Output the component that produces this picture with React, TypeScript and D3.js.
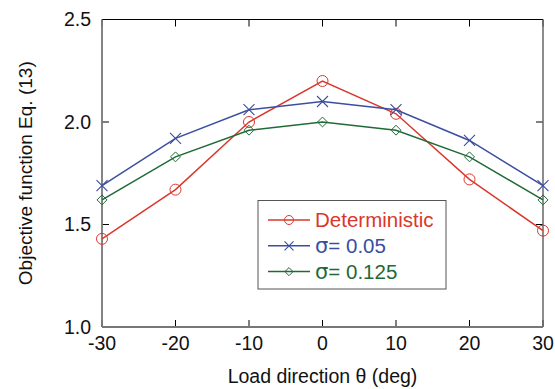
import * as d3 from "d3";

// ── Data ──────────────────────────────────────────────────────
const THETA = [-30, -20, -10, 0, 10, 20, 30];
const DETERMINISTIC = [1.43, 1.67, 2.0, 2.2, 2.04, 1.72, 1.47];
const SIGMA_005 = [1.69, 1.92, 2.06, 2.1, 2.06, 1.91, 1.69];
const SIGMA_0125 = [1.62, 1.83, 1.96, 2.0, 1.96, 1.83, 1.62];
const X_TICKS = [-30, -20, -10, 0, 10, 20, 30];
const Y_TICKS = [1.0, 1.5, 2.0, 2.5];

const SERIES = [
  { label: "Deterministic", sigma: false, values: DETERMINISTIC, color: "#d9372b", marker: "circle" },
  { label: "= 0.05", sigma: true, values: SIGMA_005, color: "#3a4ea2", marker: "x" },
  { label: "= 0.125", sigma: true, values: SIGMA_0125, color: "#1f6a36", marker: "diamond" },
];

// ── Layout ────────────────────────────────────────────────────
const W = 555;
const H = 389;
const M = { left: 102, right: 12, top: 19.5, bottom: 62 };
const FONT = "'Liberation Sans', Arial, Helvetica, sans-serif";

function Marker({ kind, x, y, color, s }: { kind: string; x: number; y: number; color: string; s: number }) {
  if (kind === "circle") return <circle cx={x} cy={y} r={s} fill="none" stroke={color} strokeWidth={1} />;
  if (kind === "x")
    return (
      <path
        d={`M${x - s},${y - s}L${x + s},${y + s}M${x - s},${y + s}L${x + s},${y - s}`}
        stroke={color}
        strokeWidth={1.1}
      />
    );
  const d = s * 0.9;
  return (
    <path
      d={`M${x},${y - d}L${x + d},${y}L${x},${y + d}L${x - d},${y}Z`}
      fill="none"
      stroke={color}
      strokeWidth={1}
    />
  );
}

export default function App() {
  const x = d3.scaleLinear().domain([-30, 30]).range([M.left, W - M.right]);
  const y = d3.scaleLinear().domain([1.0, 2.5]).range([H - M.bottom, M.top]);
  const line = d3
    .line<number>()
    .x((_d, i) => x(THETA[i]))
    .y((d) => y(d));

  const [x0, x1] = x.range();
  const [y0, y1] = y.range();
  const tick = 7;

  // legend box
  const lx = 258;
  const ly = 200.5;
  const lw = 188;
  const lh = 88.5;

  return (
    <svg
      width={W}
      height={H}
      style={{ position: "absolute", left: 0, top: 0, background: "#fff" }}
      fontFamily={FONT}
    >
      <rect width={W} height={H} fill="#fff" />

      {/* ticks (inward, on all four sides) */}
      {X_TICKS.map((t) => (
        <g key={"xt" + t} stroke="#000" strokeWidth={1}>
          <line x1={x(t)} x2={x(t)} y1={y0} y2={y0 - tick} />
          <line x1={x(t)} x2={x(t)} y1={y1} y2={y1 + tick} />
        </g>
      ))}
      {Y_TICKS.map((t) => (
        <g key={"yt" + t} stroke="#000" strokeWidth={1}>
          <line x1={x0} x2={x0 + tick} y1={y(t)} y2={y(t)} />
          <line x1={x1} x2={x1 - tick} y1={y(t)} y2={y(t)} />
        </g>
      ))}

      {/* frame */}
      <line x1={x0} x2={x1} y1={y1} y2={y1} stroke="#000" strokeWidth={1.2} />
      <line x1={x1} x2={x1} y1={y1} y2={y0} stroke="#666" strokeWidth={1.5} />
      <line x1={x0} x2={x0} y1={y1} y2={y0} stroke="#777" strokeWidth={1.8} />
      <line x1={x0} x2={x1} y1={y0} y2={y0} stroke="#777" strokeWidth={1.8} />

      {/* tick labels */}
      {X_TICKS.map((t) => (
        <text key={"xl" + t} x={x(t)} y={y0 + 23} textAnchor="middle" fontSize={19.5} fill="#111">
          {t}
        </text>
      ))}
      {Y_TICKS.map((t) => (
        <text key={"yl" + t} x={x0 - 11} y={y(t) + 6.5} textAnchor="end" fontSize={19.5} fill="#111">
          {t.toFixed(1)}
        </text>
      ))}

      {/* axis titles */}
      <text x={(x0 + x1) / 2} y={H - 6} textAnchor="middle" fontSize={19.5} fill="#111">
        Load direction θ (deg)
      </text>
      <text
        transform={`translate(32,${(y0 + y1) / 2}) rotate(-90)`}
        textAnchor="middle"
        fontSize={19}
        fill="#111"
      >
        Objective function Eq. (13)
      </text>

      {/* series */}
      {SERIES.map((s) => (
        <g key={s.label}>
          <path d={line(s.values) ?? ""} fill="none" stroke={s.color} strokeWidth={1.5} />
          {s.values.map((v, i) => (
            <Marker key={i} kind={s.marker} x={x(THETA[i])} y={y(v)} color={s.color} s={5.5} />
          ))}
        </g>
      ))}

      {/* legend */}
      <rect x={lx} y={ly} width={lw} height={lh} fill="#fff" stroke="#555" strokeWidth={1} />
      {SERIES.map((s, i) => {
        const ry = ly + 19.5 + i * 25.8;
        return (
          <g key={"lg" + s.label}>
            <line x1={lx + 10} x2={lx + 52} y1={ry} y2={ry} stroke={s.color} strokeWidth={1.5} />
            <Marker kind={s.marker} x={lx + 31} y={ry} color={s.color} s={4.5} />
            <text x={lx + 57} y={ry + 7} fontSize={20.5} fill={s.color}>
              {s.sigma ? (
                <>
                  <tspan fontFamily="'DejaVu Sans', sans-serif" fontSize={21}>σ</tspan>
                  <tspan>{"= " + s.label.slice(2)}</tspan>
                </>
              ) : (
                s.label
              )}
            </text>
          </g>
        );
      })}
    </svg>
  );
}
